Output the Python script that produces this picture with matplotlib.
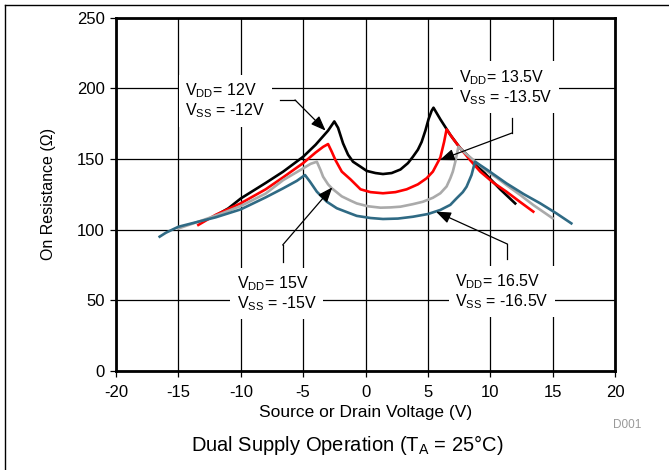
import matplotlib
matplotlib.use("Agg")
import matplotlib.pyplot as plt
from matplotlib.lines import Line2D

plt.rcParams['font.family'] = ['Liberation Sans', 'DejaVu Sans']
plt.rcParams['mathtext.fontset'] = 'custom'
plt.rcParams['mathtext.rm'] = 'Liberation Sans'
plt.rcParams['mathtext.it'] = 'Liberation Sans:italic'
plt.rcParams['mathtext.bf'] = 'Liberation Sans:bold'
plt.rcParams['axes.unicode_minus'] = False

# ---- data ----
v_12 = [-12.0, -11.0, -10.0, -8.0, -6.6, -5.0, -4.0, -3.0, -2.5, -2.2, -1.8, -1.4, -1.0, -0.4,
        0.1, 0.8, 1.4, 2.1, 2.8, 3.4, 3.8, 4.2, 4.5, 4.8, 5.05, 5.3, 5.45, 6.0, 6.8, 7.6, 8.6,
        9.6, 10.8, 12.0]
r_12 = [110.0, 115.0, 122.0, 133.0, 141.0, 151.5, 160.0, 170.0, 176.5, 172.0, 161.0, 153.0,
        148.0, 144.5, 141.5, 140.0, 139.3, 140.0, 142.5, 147.0, 151.5, 156.5, 162.0, 170.0,
        178.0, 184.0, 186.2, 178.0, 167.0, 157.5, 149.0, 139.5, 128.5, 118.5]

v_135 = [-13.4, -12.0, -10.0, -8.0, -6.6, -5.0, -4.0, -3.4, -3.0, -2.7, -2.4, -1.9, -1.2,
         -0.4, 0.4, 1.4, 2.4, 3.3, 4.2, 4.9, 5.4, 5.7, 6.0, 6.3, 6.5, 7.0, 7.6, 8.4, 9.2,
         10.2, 11.3, 12.4, 13.45]
r_135 = [103.3, 110.5, 118.6, 128.5, 137.0, 147.0, 154.5, 158.5, 160.5, 155.0, 149.0,
         141.0, 135.5, 128.5, 126.5, 125.7, 126.5, 128.5, 132.0, 136.3, 141.0, 146.0, 151.0,
         162.0, 170.9, 164.5, 157.5, 149.0, 141.0, 133.5, 126.8, 119.5, 112.7]

v_15 = [-15.0, -13.0, -11.5, -10.0, -8.0, -6.6, -5.0, -4.4, -3.9, -3.6, -3.4, -3.0, -2.7,
        -1.9, -1.2, -0.7, 0.2, 1.2, 2.0, 2.8, 3.8, 4.6, 5.4, 6.0, 6.5, 6.8, 7.0, 7.2, 7.45,
        8.0, 8.65, 9.6, 10.5, 11.3, 12.4, 13.45, 15.0]
r_15 = [100.8, 106.8, 111.5, 116.7, 125.5, 135.0, 143.3, 146.5, 148.0, 142.0, 137.4, 132.0,
        129.2, 123.5, 120.5, 118.5, 116.5, 115.5, 115.7, 116.2, 118.0, 119.7, 122.5, 125.7,
        130.5, 136.3, 141.0, 148.0, 158.6, 154.0, 149.2, 142.0, 136.8, 131.5, 124.5, 117.4,
        108.0]

v_165 = [-16.5, -16.0, -15.0, -13.4, -12.0, -10.0, -8.0, -6.6, -5.5, -4.85, -4.45, -3.9,
         -3.1, -2.3, -1.24, -0.7, 0.4, 1.4, 2.6, 3.8, 5.0, 6.0, 6.8, 7.3, 7.8, 8.1, 8.5,
         8.78, 9.8, 11.3, 12.7, 14.0, 15.3, 16.5]
r_165 = [95.0, 97.8, 102.0, 105.6, 108.7, 114.3, 122.8, 129.2, 134.5, 138.6, 133.9, 126.8,
         119.7, 115.1, 111.5, 109.7, 108.2, 107.5, 107.8, 109.1, 111.0, 113.9, 117.5, 122.1,
         126.5, 130.3, 138.6, 148.0, 142.0, 132.7, 125.0, 118.6, 111.5, 104.4]

series = [
    (v_12, r_12, '#000000'),
    (v_135, r_135, '#ff0000'),
    (v_15, r_15, '#aaaaaa'),
    (v_165, r_165, '#2f6a84'),
]

x_ticks = [-20, -15, -10, -5, 0, 5, 10, 15, 20]
y_ticks = [0, 50, 100, 150, 200, 250]

# annotation texts, text anchor (left, centre), arrow path (start, elbow), arrow tip
labels = [
    (r"$\mathregular{V_{DD}}$= 12V" + "\n" + r"$\mathregular{V_{SS}}$ = -12V",
     (-14.47, 191.0), [(-6.85, 191.7), (-5.65, 191.7)], (-3.2, 170.0)),
    (r"$\mathregular{V_{DD}}$= 13.5V" + "\n" + r"$\mathregular{V_{SS}}$ = -13.5V",
     (7.49, 200.7), [(11.74, 178.9), (11.74, 168.3)], (5.95, 149.2)),
    (r"$\mathregular{V_{DD}}$= 15V" + "\n" + r"$\mathregular{V_{SS}}$ = -15V",
     (-10.32, 54.8), [(-6.64, 77.3), (-6.64, 89.1)], (-2.66, 129.9)),
    (r"$\mathregular{V_{DD}}$= 16.5V" + "\n" + r"$\mathregular{V_{SS}}$ = -16.5V",
     (7.17, 56.1), [(11.37, 79.0), (11.37, 89.8)], (5.65, 112.7)),
]

fig = plt.figure(figsize=(6.69, 4.70), dpi=100)
ax = fig.add_axes([116 / 669, 1 - 371 / 470, 499 / 669, 353.5 / 470])

for v, r, c in series:
    ax.plot(v, r, color=c, lw=1.9, zorder=3, solid_joinstyle='round')

ax.set_xlim(-20, 20)
ax.set_ylim(0, 250)
ax.set_xticks(x_ticks)
ax.set_yticks(y_ticks)
ax.grid(True, color='black', lw=0.9, zorder=0)
ax.set_axisbelow(True)
for s in ax.spines.values():
    s.set_linewidth(2.0)
ax.tick_params(direction='out', length=4, width=0.9, pad=4, labelsize=12)
ax.tick_params(axis='x', pad=6)

ax.set_xlabel("Source or Drain Voltage (V)", fontsize=12.5)
ax.xaxis.set_label_coords(0.5, -0.095)
ax.set_ylabel("On Resistance (Ω)", fontsize=11.5)
ax.yaxis.set_label_coords(-0.12, 0.5)

for txt, (tx, ty), path, tip in labels:
    ax.text(tx, ty, txt, fontsize=11.5, ha='left', va='center', linespacing=1.1,
            zorder=4, bbox=dict(boxstyle='square,pad=0.4', fc='white', ec='none'))
    px = [p[0] for p in path]
    py = [p[1] for p in path]
    ax.plot(px, py, color='black', lw=0.9, zorder=5)
    ax.annotate("", xy=tip, xytext=path[-1],
                arrowprops=dict(arrowstyle='-|>,head_length=0.9,head_width=0.35',
                                color='black', lw=0.9, shrinkA=0, shrinkB=0,
                                mutation_scale=10), zorder=5)

fig.text(347 / 669, 1 - 445 / 470, r"Dual Supply Operation ($\mathregular{T_A}$ = 25°C)",
         fontsize=14.5, ha='center', va='center')
fig.text(627 / 669, 1 - 425 / 470, "D001", fontsize=8.5, color='#999999',
         ha='center', va='center')

fig.add_artist(Line2D([5 / 669, 1.0], [1 - 4.5 / 470, 1 - 4.5 / 470],
                      transform=fig.transFigure, color='black', lw=1.0))
fig.add_artist(Line2D([5 / 669, 5 / 669], [0.0, 1 - 4.5 / 470],
                      transform=fig.transFigure, color='black', lw=1.0))

fig.savefig("out.png", dpi=100)
